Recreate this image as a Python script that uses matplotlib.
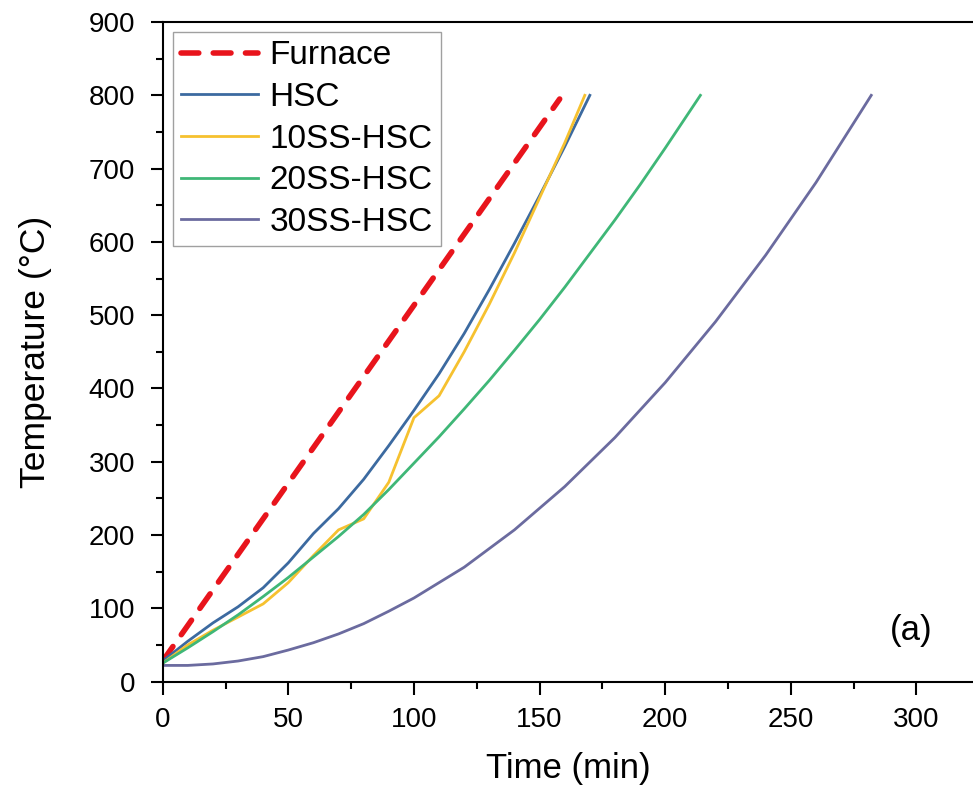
import numpy as np
import matplotlib
matplotlib.use("Agg")
import matplotlib.pyplot as plt
from matplotlib.ticker import MultipleLocator, FixedLocator

plt.rcParams['font.family'] = ['Liberation Sans', 'DejaVu Sans']

# data
furnace_t = [0, 158]
furnace_T = [28, 795]

hsc_t = [0, 10, 20, 30, 40, 50, 60, 70, 80, 90, 100, 110, 120, 130, 140, 150, 160, 170]
hsc_T = [28, 55, 80, 102, 128, 162, 202, 236, 276, 322, 370, 420, 475, 535, 598, 663, 730, 800]

ss10_t = [0, 10, 20, 30, 40, 50, 60, 70, 80, 90, 100, 110, 120, 130, 140, 150, 160, 168]
ss10_T = [25, 50, 70, 88, 106, 135, 172, 207, 222, 272, 360, 390, 450, 515, 585, 660, 735, 800]

ss20_t = [0, 10, 20, 30, 40, 50, 60, 70, 80, 90, 100, 110, 120, 130, 140, 150, 160, 170, 180, 190, 200, 214]
ss20_T = [25, 46, 68, 91, 116, 142, 170, 198, 228, 262, 298, 334, 372, 411, 452, 494, 538, 584, 630, 678, 728, 800]

ss30_t = [0, 10, 20, 30, 40, 50, 60, 70, 80, 90, 100, 120, 140, 160, 180, 200, 220, 240, 260, 282]
ss30_T = [22, 22, 24, 28, 34, 43, 53, 65, 79, 96, 114, 156, 207, 266, 333, 408, 491, 582, 681, 800]

x_ticks = [0, 50, 100, 150, 200, 250, 300]

fig = plt.figure(figsize=(9.73, 7.85), dpi=100)
ax = fig.add_axes([0.1672, 0.1318, 1 - 0.1672, 0.8401])

ax.plot(furnace_t, furnace_T, color='#e8141c', lw=4, ls=(0, (3.2, 2.6)),
        dash_capstyle='round', label='Furnace')
ax.plot(hsc_t, hsc_T, color='#3c6aa0', lw=2, label='HSC')
ax.plot(ss10_t, ss10_T, color='#f6c12f', lw=2, label='10SS-HSC')
ax.plot(ss20_t, ss20_T, color='#3fb777', lw=2, label='20SS-HSC')
ax.plot(ss30_t, ss30_T, color='#6b6b9f', lw=2, label='30SS-HSC')

ax.set_xlim(0, 322.5)
ax.set_ylim(0, 900)
ax.xaxis.set_major_locator(FixedLocator(x_ticks))
ax.xaxis.set_minor_locator(MultipleLocator(25))
ax.yaxis.set_major_locator(MultipleLocator(100))
ax.yaxis.set_minor_locator(MultipleLocator(50))
ax.tick_params(which='major', direction='out', length=9, width=1.5, labelsize=20)
ax.tick_params(which='minor', direction='out', length=5, width=1.5)
ax.tick_params(axis='x', which='major', pad=9)
ax.tick_params(axis='y', which='major', pad=11)
for s in ax.spines.values():
    s.set_linewidth(1.5)
ax.spines['right'].set_visible(False)

ax.set_xlabel('Time (min)', fontsize=25, labelpad=14)
ax.set_ylabel('Temperature (°C)', fontsize=25.5, labelpad=26)

ax.text(298, 70, '(a)', fontsize=25, ha='center', va='center')

leg = ax.legend(loc='upper left', fontsize=24, frameon=True, fancybox=False,
                edgecolor='#888888', borderaxespad=0.3, handlelength=2.3,
                labelspacing=0.32, handletextpad=0.35, borderpad=0.25)
leg.get_frame().set_linewidth(1.0)

fig.savefig('out.png', dpi=100)
